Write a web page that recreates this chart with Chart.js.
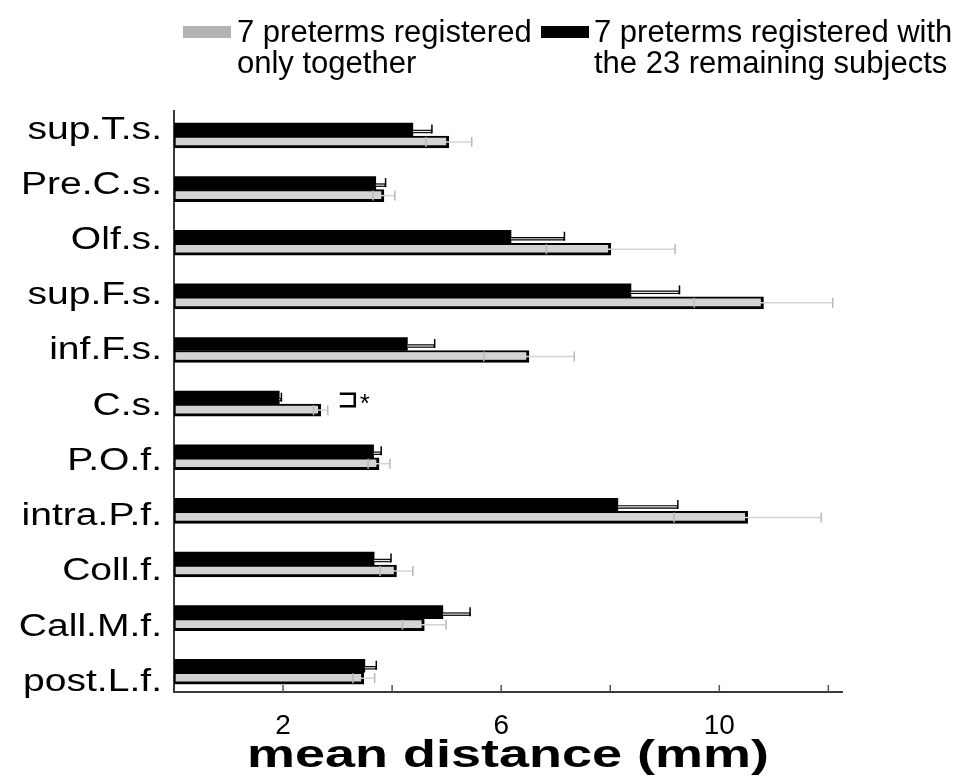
<!DOCTYPE html>
<html>
<head>
<meta charset="utf-8">
<script src="https://cdn.jsdelivr.net/npm/chart.js"></script>
<style>
html, body { margin: 0; padding: 0; background: #fff; }
#graphCanvas { display: block; }
</style>
</head>
<body>
<canvas id="graphCanvas" width="957" height="779"></canvas>
<script>
////////////////////// data //////////////////////
var labels = ['sup.T.s.', 'Pre.C.s.', 'Olf.s.', 'sup.F.s.', 'inf.F.s.', 'C.s.',
              'P.O.f.', 'intra.P.f.', 'Coll.f.', 'Call.M.f.', 'post.L.f.'];
// 7 preterms registered with the 23 remaining subjects (black)
var remainingMean = [4.38, 3.70, 6.18, 8.38, 4.28, 1.93, 3.66, 8.14, 3.67, 4.93, 3.50];
var remainingErr  = [0.35, 0.18, 0.98, 0.89, 0.50, 0.04, 0.14, 1.10, 0.31, 0.50, 0.21];
// 7 preterms registered only together (gray)
var togetherMean  = [5.04, 3.85, 8.01, 10.81, 6.51, 2.69, 3.76, 10.52, 4.08, 4.59, 3.48];
var togetherErr   = [0.42, 0.20, 1.18, 1.27, 0.83, 0.13, 0.20, 1.35, 0.30, 0.40, 0.20];
var xTicks = [2, 4, 6, 8, 10, 12];
var xTickLabels = ['2', '6', '10'];
var xTitle = 'mean distance (mm)';
var legendTogether = ['7 preterms registered', 'only together'];
var legendRemaining = ['7 preterms registered with', 'the 23 remaining subjects'];
var signifIndex = 5; // C.s.

var FONT = "'Liberation Sans', Arial, Helvetica, sans-serif";
Chart.defaults.font.family = FONT;
Chart.defaults.color = '#000';

////////////////////// error bars + star //////////////////////
var errorBars = {
    id: 'errorBars',
    afterDatasetsDraw: function (chart) {
        var ctx = chart.ctx;
        var xs = chart.scales.x;
        ctx.save();
        // gray series: symmetric light error bars
        chart.getDatasetMeta(1).data.forEach(function (bar, i) {
            var y = bar.y;
            var lo = xs.getPixelForValue(togetherMean[i] - togetherErr[i]);
            var hi = xs.getPixelForValue(togetherMean[i] + togetherErr[i]);
            ctx.strokeStyle = '#d4d4d4';
            ctx.lineWidth = 1.5;
            ctx.beginPath();
            ctx.moveTo(lo, y); ctx.lineTo(hi, y);
            ctx.stroke();
            ctx.strokeStyle = '#b8b8b8';
            ctx.beginPath();
            ctx.moveTo(lo, y - 5); ctx.lineTo(lo, y + 5);
            ctx.moveTo(hi, y - 5); ctx.lineTo(hi, y + 5);
            ctx.stroke();
        });
        // black series: outlined error bars
        chart.getDatasetMeta(0).data.forEach(function (bar, i) {
            var y = bar.y + 2;
            var x0 = xs.getPixelForValue(remainingMean[i]);
            var x1 = xs.getPixelForValue(remainingMean[i] + remainingErr[i]);
            ctx.strokeStyle = '#000';
            ctx.lineWidth = 3.5;
            ctx.beginPath();
            ctx.moveTo(x0, y); ctx.lineTo(x1, y);
            ctx.stroke();
            ctx.strokeStyle = '#e6e6e6';
            ctx.lineWidth = 1.2;
            ctx.beginPath();
            ctx.moveTo(x0, y); ctx.lineTo(x1 - 1, y);
            ctx.stroke();
            ctx.strokeStyle = '#000';
            ctx.lineWidth = 1.5;
            ctx.beginPath();
            ctx.moveTo(x1, y - 7); ctx.lineTo(x1, y + 2);
            ctx.stroke();
        });
        // significance bracket
        var b0 = chart.getDatasetMeta(0).data[signifIndex];
        var b1 = chart.getDatasetMeta(1).data[signifIndex];
        var bx = xs.getPixelForValue(togetherMean[signifIndex] + togetherErr[signifIndex]) + 12;
        var top = b0.y - 4, bot = b1.y - 4;
        ctx.strokeStyle = '#000';
        ctx.lineWidth = 2.5;
        ctx.beginPath();
        ctx.moveTo(bx, top); ctx.lineTo(bx + 15, top);
        ctx.lineTo(bx + 15, bot); ctx.lineTo(bx, bot);
        ctx.stroke();
        ctx.fillStyle = '#000';
        ctx.font = '26px ' + FONT;
        ctx.textAlign = 'left';
        ctx.textBaseline = 'middle';
        ctx.fillText('*', bx + 20, (top + bot) / 2 + 5);
        ctx.restore();
    }
};

////////////////////// inward ticks, row labels, axis title //////////////////////
var axisDecor = {
    id: 'axisDecor',
    afterDraw: function (chart) {
        var ctx = chart.ctx;
        var xs = chart.scales.x;
        var yl = chart.scales.yl;
        var area = chart.chartArea;
        ctx.save();
        ctx.strokeStyle = '#555';
        ctx.lineWidth = 1.5;
        ctx.beginPath();
        xTicks.forEach(function (v) {
            var px = xs.getPixelForValue(v);
            ctx.moveTo(px, area.bottom); ctx.lineTo(px, area.bottom - 7);
        });
        ctx.stroke();

        // row labels are drawn a bit wide, like the original figure
        ctx.fillStyle = '#000';
        ctx.font = '31px ' + FONT;
        ctx.textAlign = 'right';
        ctx.textBaseline = 'middle';
        labels.forEach(function (l, i) {
            ctx.save();
            ctx.translate(area.left - 12, yl.getPixelForValue(i));
            ctx.scale(1.26, 1);
            ctx.fillText(l, 0, 0);
            ctx.restore();
        });

        ctx.font = 'bold 38px ' + FONT;
        ctx.textAlign = 'center';
        ctx.save();
        ctx.translate((area.left + area.right) / 2, 757);
        ctx.scale(1.42, 1);
        ctx.fillText(xTitle, 0, 0);
        ctx.restore();
        ctx.restore();
    }
};

////////////////////// legend //////////////////////
var twoLineLegend = {
    id: 'twoLineLegend',
    afterDraw: function (chart) {
        var ctx = chart.ctx;
        ctx.save();
        ctx.font = '31px ' + FONT;
        ctx.textAlign = 'left';
        ctx.textBaseline = 'middle';
        ctx.fillStyle = '#b3b3b3';
        ctx.fillRect(183, 26, 48, 12);
        ctx.fillStyle = '#000';
        ctx.fillRect(541, 26, 48, 12);
        legendTogether.forEach(function (t, i) { ctx.fillText(t, 237, 33 + i * 31); });
        legendRemaining.forEach(function (t, i) { ctx.fillText(t, 594, 33 + i * 31); });
        ctx.restore();
    }
};

////////////////////// chart //////////////////////
var barTarget = document.getElementById('graphCanvas');
var barGraph = new Chart(barTarget, {
    type: 'bar',
    data: {
        datasets: [
            {
                label: legendRemaining.join(' '),
                data: remainingMean.map(function (v, i) { return { x: v, y: i }; }),
                backgroundColor: '#000',
                borderWidth: 0,
                barThickness: 13
            },
            {
                label: legendTogether.join(' '),
                data: togetherMean.map(function (v, i) { return { x: v, y: i }; }),
                backgroundColor: '#d3d3d3',
                borderColor: '#000',
                borderWidth: { top: 2, right: 3, bottom: 3, left: 2 },
                borderSkipped: false,
                barThickness: 12
            }
        ]
    },
    options: {
        indexAxis: 'y',
        responsive: false,
        animation: false,
        devicePixelRatio: 1,
        layout: { padding: { top: 111, right: 115, bottom: 0, left: 0 } },
        plugins: {
            legend: { display: false },
            tooltip: { enabled: false }
        },
        scales: {
            x: {
                type: 'linear',
                min: 0,
                max: 12.25,
                grid: { display: false, drawTicks: false },
                border: { color: '#3a3a3a', width: 2 },
                afterBuildTicks: function (s) { s.ticks = xTicks.map(function (v) { return { value: v }; }); },
                afterFit: function (s) { s.height = 87; },
                ticks: {
                    padding: 17,
                    font: { size: 28 },
                    autoSkip: false,
                    maxRotation: 0,
                    callback: function (v) { return xTickLabels.indexOf(String(v)) >= 0 ? String(v) : ''; }
                }
            },
            y: {
                type: 'linear',
                reverse: true,
                offset: false,
                min: -0.466,
                max: 10.368,
                display: false
            },
            yl: {
                type: 'linear',
                position: 'left',
                reverse: true,
                offset: false,
                min: -0.344,
                max: 10.176,
                grid: { display: false, drawTicks: false },
                border: { color: '#3a3a3a', width: 2 },
                afterBuildTicks: function (s) { s.ticks = labels.map(function (l, i) { return { value: i }; }); },
                afterFit: function (s) { s.width = 174; },
                ticks: { display: false }
            }
        }
    },
    plugins: [errorBars, axisDecor, twoLineLegend]
});
</script>
</body>
</html>
